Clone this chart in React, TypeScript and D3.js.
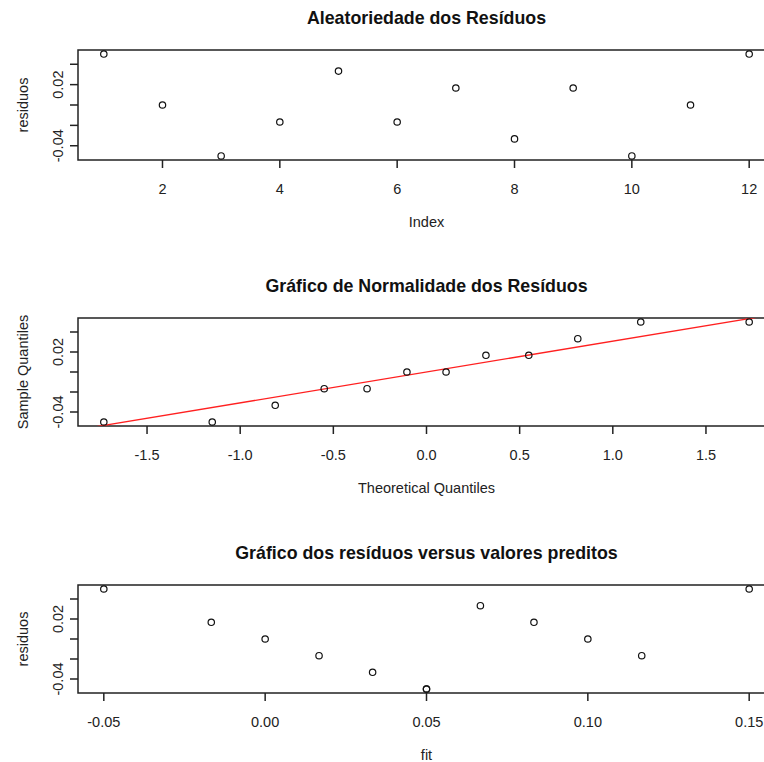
import React from "react";
import * as d3 from "d3";

// ---- data ----
const indexValues = [1, 2, 3, 4, 5, 6, 7, 8, 9, 10, 11, 12];
const residuals = [0.05, 0.0, -0.05, -0.0167, 0.0333, -0.0167, 0.0167, -0.0333, 0.0167, -0.05, 0.0, 0.05];
const fittedValues = [-0.05, 0.0, 0.05, 0.0167, 0.0667, 0.1167, -0.0167, 0.0333, 0.0833, 0.05, 0.1, 0.15];
const theoreticalQuantiles = [-1.732, -1.15, -0.812, -0.549, -0.319, -0.105, 0.105, 0.319, 0.549, 0.812, 1.15, 1.732];
const sampleQuantiles = [-0.05, -0.05, -0.0333, -0.0167, -0.0167, 0.0, 0.0, 0.0167, 0.0167, 0.0333, 0.05, 0.05];
const qqLineX = [-0.6745, 0.6745];
const qqLineY = [-0.0208, 0.0208];

const yTicks = [-0.04, -0.02, 0.0, 0.02, 0.04];
const yTickLabels = ["-0.04", "", "", "0.02", ""];
const xTicksIndex = [2, 4, 6, 8, 10, 12];
const xTicksQQ = [-1.5, -1.0, -0.5, 0.0, 0.5, 1.0, 1.5];
const xTicksFit = [-0.05, 0.0, 0.05, 0.1, 0.15];

const titles = ["Aleatoriedade dos Resíduos", "Gráfico de Normalidade dos Resíduos", "Gráfico dos resíduos versus valores preditos"];
const xLabels = ["Index", "Theoretical Quantiles", "fit"];
const yLabels = ["residuos", "Sample Quantiles", "residuos"];

const W = 764;
const H = 762;
const LEFT = 78;
const RIGHT = 775;
const FONT = "Liberation Sans, Arial, sans-serif";

function ext(domain: [number, number]): [number, number] {
  const d = (domain[1] - domain[0]) * 0.04;
  return [domain[0] - d, domain[1] + d];
}

type PanelProps = {
  top: number;
  bottom: number;
  xs: number[];
  ys: number[];
  xTicks: number[];
  xFmt: (v: number) => string;
  title: string;
  xLabel: string;
  yLabel: string;
  line?: { x: number[]; y: number[] };
  id: string;
};

function Panel({ top, bottom, xs, ys, xTicks, xFmt, title, xLabel, yLabel, line, id }: PanelProps) {
  const x = d3.scaleLinear().domain(ext(d3.extent(xs) as [number, number])).range([LEFT, RIGHT]);
  const y = d3.scaleLinear().domain(ext(d3.extent(ys) as [number, number])).range([bottom, top]);
  const cx = (LEFT + RIGHT) / 2;
  let lineEl = null;
  if (line) {
    const slope = (line.y[1] - line.y[0]) / (line.x[1] - line.x[0]);
    const icpt = line.y[0] - slope * line.x[0];
    const [x0, x1] = x.domain();
    lineEl = (
      <line
        x1={x(x0)}
        y1={y(icpt + slope * x0)}
        x2={x(x1)}
        y2={y(icpt + slope * x1)}
        stroke="#ff2020"
        strokeWidth={1.3}
        clipPath={`url(#clip-${id})`}
      />
    );
  }
  return (
    <g>
      <defs>
        <clipPath id={`clip-${id}`}>
          <rect x={LEFT} y={top} width={RIGHT - LEFT} height={bottom - top} />
        </clipPath>
      </defs>
      <text x={cx} y={top - 26} textAnchor="middle" fontWeight="bold" fontSize={17.8} fill="#111">
        {title}
      </text>
      <rect x={LEFT} y={top} width={RIGHT - LEFT} height={bottom - top} fill="none" stroke="#222" strokeWidth={1.5} />
      {lineEl}
      {xs.map((v, i) => (
        <circle key={i} cx={x(v)} cy={y(ys[i])} r={3.2} fill="none" stroke="#111" strokeWidth={1.2} />
      ))}
      {xTicks.map((t, i) => (
        <g key={i}>
          <line x1={x(t)} x2={x(t)} y1={bottom} y2={bottom + 8} stroke="#222" strokeWidth={1.5} />
          <text x={x(t)} y={bottom + 34} textAnchor="middle" fontSize={14.5} fill="#222">
            {xFmt(t)}
          </text>
        </g>
      ))}
      {yTicks.map((t, i) => (
        <g key={i}>
          <line x1={LEFT - 8} x2={LEFT} y1={y(t)} y2={y(t)} stroke="#222" strokeWidth={1.5} />
          {yTickLabels[i] && (
            <text
              transform={`translate(63,${y(t)}) rotate(-90)`}
              textAnchor="middle"
              fontSize={14.5}
              fill="#222"
            >
              {yTickLabels[i]}
            </text>
          )}
        </g>
      ))}
      <text x={cx} y={bottom + 67} textAnchor="middle" fontSize={14.5} fill="#222">
        {xLabel}
      </text>
      <text
        transform={`translate(28,${(top + bottom) / 2}) rotate(-90)`}
        textAnchor="middle"
        fontSize={14.5}
        fill="#222"
      >
        {yLabel}
      </text>
    </g>
  );
}

export default function App() {
  return (
    <div style={{ position: "absolute", left: 0, top: 0, width: W, height: H, background: "#fff" }}>
      <svg width={W} height={H} style={{ display: "block", fontFamily: FONT }}>
        <rect width={W} height={H} fill="#fff" />
        <Panel
          id="p1"
          top={50}
          bottom={160}
          xs={indexValues}
          ys={residuals}
          xTicks={xTicksIndex}
          xFmt={(v) => String(v)}
          title={titles[0]}
          xLabel={xLabels[0]}
          yLabel={yLabels[0]}
        />
        <Panel
          id="p2"
          top={318}
          bottom={426}
          xs={theoreticalQuantiles}
          ys={sampleQuantiles}
          xTicks={xTicksQQ}
          xFmt={(v) => d3.format(".1f")(v).replace("−", "-")}
          title={titles[1]}
          xLabel={xLabels[1]}
          yLabel={yLabels[1]}
          line={{ x: qqLineX, y: qqLineY }}
        />
        <Panel
          id="p3"
          top={585}
          bottom={693}
          xs={fittedValues}
          ys={residuals}
          xTicks={xTicksFit}
          xFmt={(v) => d3.format(".2f")(v).replace("−", "-")}
          title={titles[2]}
          xLabel={xLabels[2]}
          yLabel={yLabels[2]}
        />
      </svg>
    </div>
  );
}
